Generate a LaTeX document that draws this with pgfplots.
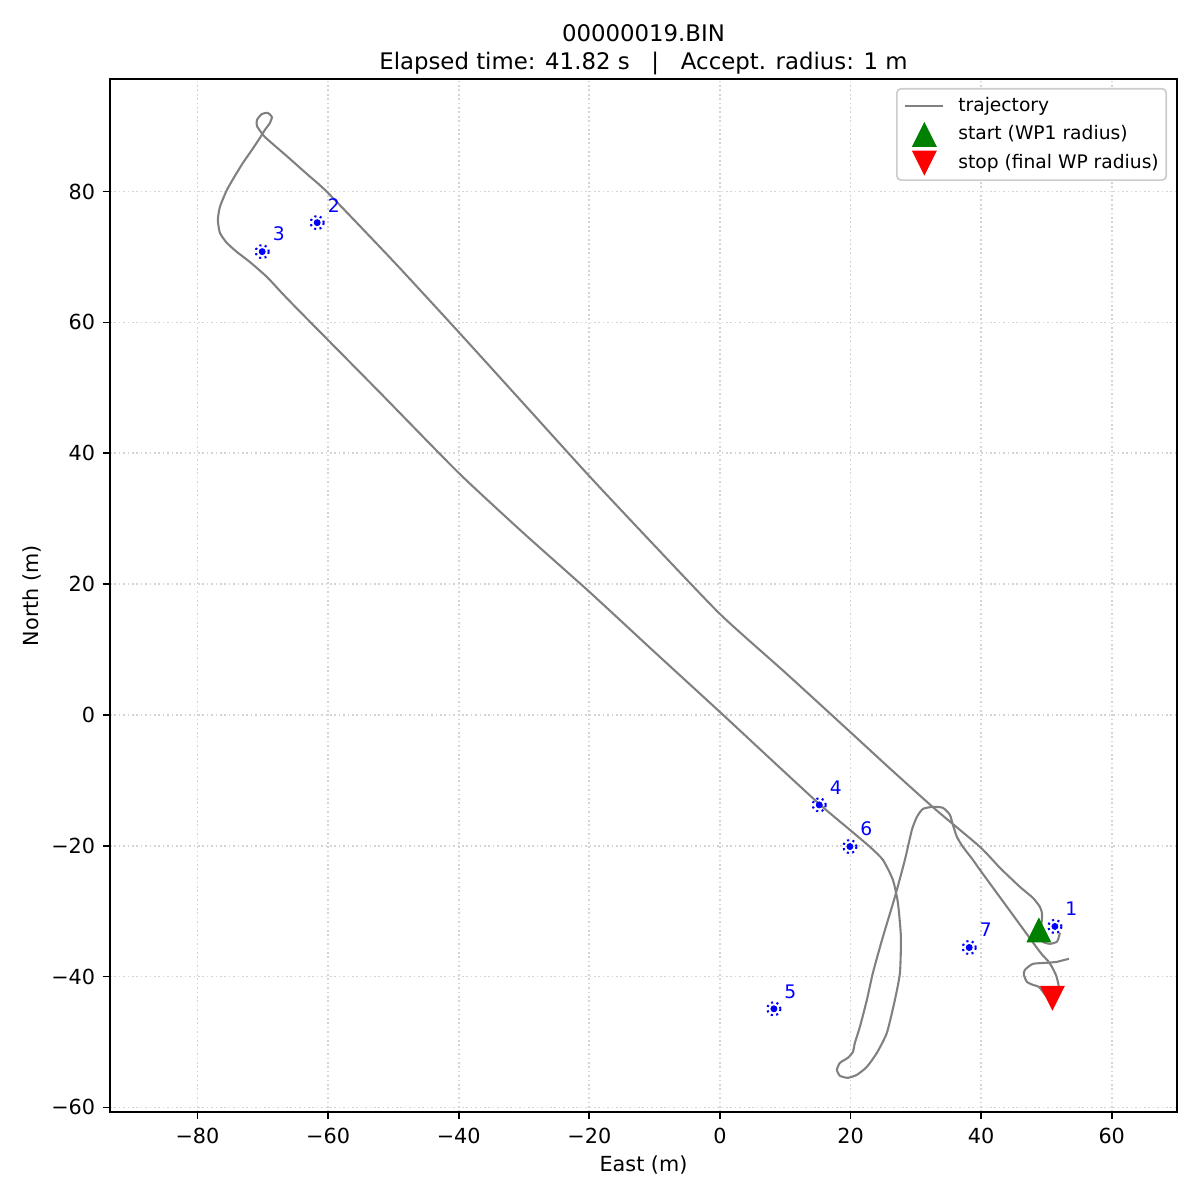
\documentclass[border=0pt]{standalone}
\usepackage{fontspec}
\setmainfont{DejaVu Sans}
\usepackage{pgfplots}
\usepackage{pgfplotstable}
\pgfplotsset{compat=1.18}

\definecolor{traj}{HTML}{808080}
\definecolor{gridc}{HTML}{D4D4D4}
\definecolor{mgreen}{HTML}{008000}
\definecolor{legedge}{HTML}{CCCCCC}

% matplotlib-style triangle markers (bounding box = 2*size square)
\pgfdeclareplotmark{triup}{%
  \pgfpathmoveto{\pgfpoint{0pt}{\pgfplotmarksize}}%
  \pgfpathlineto{\pgfpoint{-\pgfplotmarksize}{-\pgfplotmarksize}}%
  \pgfpathlineto{\pgfpoint{\pgfplotmarksize}{-\pgfplotmarksize}}%
  \pgfpathclose\pgfusepathqfill}
\pgfdeclareplotmark{tridown}{%
  \pgfpathmoveto{\pgfpoint{0pt}{-\pgfplotmarksize}}%
  \pgfpathlineto{\pgfpoint{-\pgfplotmarksize}{\pgfplotmarksize}}%
  \pgfpathlineto{\pgfpoint{\pgfplotmarksize}{\pgfplotmarksize}}%
  \pgfpathclose\pgfusepathqfill}

% legend handles: 18.3pt long, 7.2pt gap before the text
\pgfplotsset{
  legline/.style={legend image code/.code={%
    \path[draw=none, fill=none] (0pt,0pt) -- (25.5pt,0pt);
    \draw[##1] (0pt,0pt) -- (18.3pt,0pt);}},
  legmark/.style={legend image code/.code={%
    \path[draw=none, fill=none] (0pt,0pt) -- (25.5pt,0pt);
    \draw[##1] plot coordinates {(9.15pt,0pt)};}},
}

% waypoints (East, North)
\pgfplotstableread{
x      y       label
51.30  -32.34  1
-61.67 75.24   2
-70.09 70.81   3
15.21  -13.76  4
8.27   -44.93  5
19.91  -20.13  6
38.18  -35.56  7
}\waypoints

\begin{document}
\begin{tikzpicture}
\begin{axis}[
  scale only axis,
  width=514.1pt, height=497.7pt,
  xmin=-93.4, xmax=70.0, ymin=-60.7, ymax=97.2,
  axis line style={black, line width=0.8pt},
  xtick={-80,-60,...,60},
  xticklabels={−80,−60,−40,−20,0,20,40,60},
  ytick={-60,-40,...,80},
  yticklabels={−60,−40,−20,0,20,40,60,80},
  tick align=outside, xtick pos=bottom, ytick pos=left,
  major tick length=3.5pt,
  tick style={black, line width=0.8pt},
  grid=major,
  grid style={gridc, line width=0.8pt, dash pattern=on 0.8pt off 1.32pt},
  ticklabel style={font=\fontsize{10}{12}\selectfont},
  xticklabel style={anchor=north, inner sep=0pt, yshift=-4pt},
  yticklabel style={anchor=east, inner sep=0pt, xshift=-3.5pt},
  every axis x label/.style={at={(axis description cs:0.5,0)}, anchor=base, yshift=-28.9pt, font=\fontsize{10}{12}\selectfont},
  every axis y label/.style={at={(axis description cs:0,0.5)}, xshift=-37.6pt, rotate=90, anchor=center, font=\fontsize{10}{12}\selectfont},
  xlabel={East (m)}, ylabel={North (m)},
  title={00000019.BIN\\Elapsed time: 41.82 s\ \ \ |\ \ \ Accept. radius: 1 m},
  title style={at={(axis description cs:0.5,1)}, anchor=south, inner sep=0pt, yshift=-4.3pt, align=center, font=\fontsize{11}{13.5}\selectfont},
  legend cell align=left,
  legend style={at={(axis description cs:1,1)}, anchor=north east, xshift=-4.8pt, yshift=-4.3pt,
    draw=legedge, line width=0.8pt, rounded corners=2pt, fill=white,
    font=\fontsize{9}{10.8}\selectfont, inner xsep=3.6pt, inner ysep=2pt, row sep=1.5pt,
    nodes={inner xsep=0pt}},
]

% trajectory
\addplot[traj, line width=1pt, smooth, tension=0.35, legline]
coordinates {
(52.07,-33.32) (51.91,-33.93) (51.61,-34.69) (50.54,-35.00) (49.46,-34.69)
(49.00,-33.62) (49.16,-32.40) (49.31,-31.33) (49.31,-30.26) (49.00,-29.34)
(47.93,-27.97) (45.94,-26.29) (42.88,-23.38) (39.82,-20.17) (32.92,-14.37)
(26.03,-8.19) (20.20,-2.84) (10.17,6.32) (0.15,15.28) (-9.95,25.81)
(-19.95,36.44) (-29.86,47.35) (-40.00,58.51) (-49.92,69.25)
(-60.03,79.80) (-63.10,82.55) (-66.20,85.30) (-69.53,88.19)
(-70.29,89.10) (-70.90,90.02) (-70.90,90.94) (-70.14,91.85) (-69.22,92.01)
(-68.61,91.40) (-68.91,90.48) (-69.68,89.41) (-70.44,88.19) (-71.67,86.35)
(-73.05,84.37) (-74.27,82.38) (-75.50,80.24) (-76.57,77.64) (-76.88,75.65)
(-76.57,73.67) (-75.50,72.14) (-73.97,70.76) (-71.98,69.23) (-69.37,66.94)
(-66.90,64.30) (-64.27,61.60) (-52.10,49.30) (-39.98,36.96) (-29.98,27.70)
(-19.98,18.80) (-9.95,9.55) (0.09,0.36) (7.70,-6.70) (15.30,-13.70)
(19.91,-17.58) (22.97,-20.17) (24.96,-22.16)
(26.49,-25.22) (27.26,-28.73) (27.72,-33.93) (27.57,-39.43) (26.80,-43.56)
(25.57,-48.60) (24.04,-51.66) (22.51,-53.80) (20.98,-55.02) (19.60,-55.48)
(18.38,-55.17) (17.92,-54.26) (18.38,-53.19) (19.60,-52.42) (20.37,-51.51)
(20.67,-50.13) (21.44,-47.68) (22.51,-43.56) (23.43,-39.43) (24.96,-33.93)
(26.80,-27.82) (28.33,-22.16) (29.40,-17.58) (30.17,-15.59) (31.09,-14.37)
(32.62,-14.06) (34.15,-14.21) (35.22,-15.28) (35.68,-16.81) (36.29,-18.65)
(37.21,-20.17) (38.74,-22.16) (39.82,-23.69) (44.41,-29.96) (49.00,-36.22)
(50.23,-37.60) (50.84,-38.51) (51.45,-39.74) (51.76,-40.81) (51.91,-41.72)
(51.91,-42.64) (51.30,-43.56) (50.38,-43.41) (49.46,-42.34) (48.85,-41.57)
(47.93,-41.27) (47.01,-40.81) (46.55,-39.74) (46.71,-38.97) (47.93,-38.06)
(50.08,-37.90) (51.61,-37.75) (52.83,-37.44) (53.45,-37.29)
};
\addlegendentry{trajectory}

% acceptance circles and waypoint dots
\addplot[only marks, forget plot, mark=o, mark size=3.15pt,
  mark options={blue, line width=1pt, dash pattern=on 1pt off 1.65pt}]
  table[x=x, y=y] {\waypoints};
\addplot[only marks, forget plot, mark=*, mark size=1.45pt, blue,
  nodes near coords, point meta=explicit symbolic,
  every node near coord/.style={anchor=center, xshift=7.95pt, yshift=8.4pt,
    text=blue, font=\fontsize{9}{10.8}\selectfont}]
  table[x=x, y=y, meta=label] {\waypoints};

% start / stop markers
\addplot[only marks, mark=triup, mark size=6pt, color=mgreen, legmark]
  coordinates {(48.85,-32.86)};
\addlegendentry{start (WP1 radius)}
\addplot[only marks, mark=tridown, mark size=6pt, color=red, legmark]
  coordinates {(50.92,-43.33)};
\addlegendentry{stop (final WP radius)}

\coordinate (LL) at (rel axis cs:0,0);
\coordinate (UR) at (rel axis cs:1,1);
\end{axis}
\pgfresetboundingbox
\useasboundingbox ([xshift=-53pt,yshift=-42.4pt]LL) rectangle ([xshift=11.08pt,yshift=38.06pt]UR);
\end{tikzpicture}
\end{document}
